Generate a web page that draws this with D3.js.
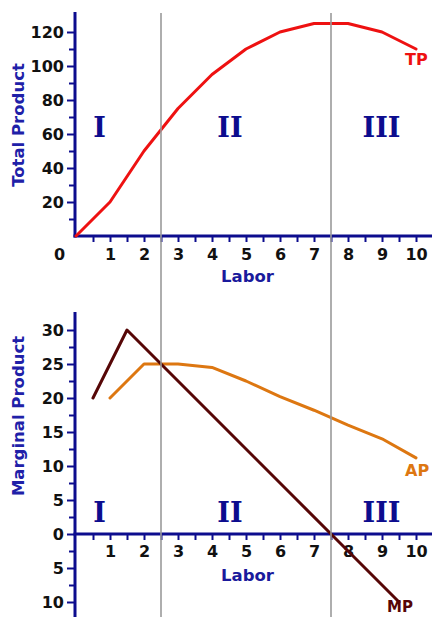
<!DOCTYPE html>
<html>
<head>
<meta charset="utf-8">
<script src="https://cdn.jsdelivr.net/npm/d3@7"></script>
<style>
  html, body { margin: 0; padding: 0; background: #fff; }
  svg { display: block; }
</style>
</head>
<body>
<svg id="chart" width="432" height="617"></svg>
<script>
// ---------- data ----------
const labor = [0, 1, 2, 3, 4, 5, 6, 7, 8, 9, 10];
const totalProduct = [0, 20, 50, 75, 95, 110, 120, 125, 125, 120, 110];
const apLabor = [1, 2, 3, 4, 5, 6, 7, 8, 9, 10];
const averageProduct = [20, 25, 25, 24.5, 22.5, 20.2, 18.2, 16, 14, 11.2];
const mpLabor = [0.5, 1.5, 2.5, 3.5, 4.5, 5.5, 6.5, 7.5, 8.5, 9.5];
const marginalProduct = [20, 30, 25, 20, 15, 10, 5, 0, -5, -10];
const stageBounds = [2.5, 7.5];
const stageLabels = ["I", "II", "III"];
const xTicks = [1, 2, 3, 4, 5, 6, 7, 8, 9, 10];
const xMinorTicks = [0.5, 1.5, 2.5, 3.5, 4.5, 5.5, 6.5, 7.5, 8.5, 9.5, 10.5];
const tpTicks = [20, 40, 60, 80, 100, 120];
const tpMinorTicks = [10, 30, 50, 70, 90, 110];
const mpTicks = [-10, -5, 0, 5, 10, 15, 20, 25, 30];
const mpMinorTicks = [-7.5, -2.5, 2.5, 7.5, 12.5, 17.5, 22.5, 27.5];

// ---------- styles ----------
const AXIS = "#0c0c8e";
const TITLE = "#2020a8";
const LABOR_COLOR = "#1a1a9c";
const TP_COLOR = "#ee1111";
const AP_COLOR = "#dd7711";
const MP_COLOR = "#560606";
const GRID = "#9a9a9a";
const FONT = "'DejaVu Sans', Verdana, sans-serif";
const SERIF = "'DejaVu Serif', serif";

const svg = d3.select("#chart");

const x = d3.scaleLinear().domain([0, 10]).range([76, 416]);
const yTop = d3.scaleLinear().domain([0, 120]).range([236, 32]);
const yBot = d3.scaleLinear().domain([0, 30]).range([534, 330]);

function styleAxis(g, fontSize) {
  g.select(".domain").remove();
  g.selectAll(".tick line").attr("stroke", AXIS).attr("stroke-width", 2);
  g.selectAll(".tick text")
    .attr("fill", "#111")
    .style("font-family", FONT)
    .style("font-weight", "bold")
    .style("font-size", fontSize + "px");
}

// ---------- TOP PANEL ----------
const topG = svg.append("g");

topG.append("g").attr("transform", `translate(0,${yTop(0)})`)
  .call(d3.axisBottom(x).tickValues(xMinorTicks).tickSize(6).tickFormat(""))
  .call(g => styleAxis(g, 16));
topG.append("g").attr("transform", `translate(0,${yTop(0)})`)
  .call(d3.axisBottom(x).tickValues(xTicks).tickSize(6).tickPadding(7).tickFormat(d3.format("d")))
  .call(g => styleAxis(g, 16));

topG.append("g").attr("transform", `translate(${x(0) - 1},0)`)
  .call(d3.axisLeft(yTop).tickValues(tpMinorTicks).tickSize(6).tickFormat(""))
  .call(g => styleAxis(g, 16));
topG.append("g").attr("transform", `translate(${x(0) - 1},0)`)
  .call(d3.axisLeft(yTop).tickValues(tpTicks).tickSize(8).tickPadding(3).tickFormat(d3.format("d")))
  .call(g => styleAxis(g, 16));

topG.append("text")
  .attr("x", 59.5).attr("y", 260)
  .attr("text-anchor", "middle")
  .attr("fill", "#111")
  .style("font-family", FONT).style("font-weight", "bold").style("font-size", "16px")
  .text("0");

topG.append("line").attr("x1", x(0) - 1).attr("x2", x(0) - 1).attr("y1", 12).attr("y2", yTop(0) + 1.5)
  .attr("stroke", AXIS).attr("stroke-width", 3);
topG.append("line").attr("x1", x(0) - 2.5).attr("x2", 432).attr("y1", yTop(0)).attr("y2", yTop(0))
  .attr("stroke", AXIS).attr("stroke-width", 3);

topG.append("text")
  .attr("transform", `translate(18,125) rotate(-90)`)
  .attr("text-anchor", "middle").attr("dominant-baseline", "central")
  .attr("fill", TITLE)
  .style("font-family", FONT).style("font-weight", "bold").style("font-size", "16.5px")
  .text("Total Product");
topG.append("text")
  .attr("x", 247.5).attr("y", 282)
  .attr("text-anchor", "middle")
  .attr("fill", LABOR_COLOR)
  .style("font-family", FONT).style("font-weight", "bold").style("font-size", "16.5px")
  .text("Labor");

topG.append("path")
  .datum(labor.map((l, i) => [l, totalProduct[i]]))
  .attr("fill", "none").attr("stroke", TP_COLOR).attr("stroke-width", 3)
  .attr("stroke-linejoin", "round").attr("stroke-linecap", "round")
  .attr("d", d3.line().x(d => x(d[0])).y(d => yTop(d[1])));
topG.append("text")
  .attr("x", 405).attr("y", 65)
  .attr("fill", TP_COLOR)
  .style("font-family", FONT).style("font-weight", "bold").style("font-size", "16px")
  .text("TP");

// ---------- BOTTOM PANEL ----------
const botG = svg.append("g");

botG.append("g").attr("transform", `translate(0,${yBot(0)})`)
  .call(d3.axisBottom(x).tickValues(xMinorTicks).tickSize(6).tickFormat(""))
  .call(g => styleAxis(g, 16));
botG.append("g").attr("transform", `translate(0,${yBot(0)})`)
  .call(d3.axisBottom(x).tickValues(xTicks).tickSize(6).tickPadding(6).tickFormat(d3.format("d")))
  .call(g => styleAxis(g, 16));

botG.append("g").attr("transform", `translate(${x(0) - 1},0)`)
  .call(d3.axisLeft(yBot).tickValues(mpMinorTicks).tickSize(6).tickFormat(""))
  .call(g => styleAxis(g, 16));
botG.append("g").attr("transform", `translate(${x(0) - 1},0)`)
  .call(d3.axisLeft(yBot).tickValues(mpTicks).tickSize(8).tickPadding(3).tickFormat(d => Math.abs(d)))
  .call(g => styleAxis(g, 16));

botG.append("line").attr("x1", x(0) - 1).attr("x2", x(0) - 1).attr("y1", 312).attr("y2", 617)
  .attr("stroke", AXIS).attr("stroke-width", 3);
botG.append("line").attr("x1", x(0) - 2.5).attr("x2", 432).attr("y1", yBot(0)).attr("y2", yBot(0))
  .attr("stroke", AXIS).attr("stroke-width", 3);

botG.append("text")
  .attr("transform", `translate(18,416) rotate(-90)`)
  .attr("text-anchor", "middle").attr("dominant-baseline", "central")
  .attr("fill", TITLE)
  .style("font-family", FONT).style("font-weight", "bold").style("font-size", "16.5px")
  .text("Marginal Product");
botG.append("text")
  .attr("x", 247.5).attr("y", 581)
  .attr("text-anchor", "middle")
  .attr("fill", LABOR_COLOR)
  .style("font-family", FONT).style("font-weight", "bold").style("font-size", "16.5px")
  .text("Labor");

botG.append("path")
  .datum(apLabor.map((l, i) => [l, averageProduct[i]]))
  .attr("fill", "none").attr("stroke", AP_COLOR).attr("stroke-width", 3)
  .attr("stroke-linejoin", "round").attr("stroke-linecap", "round")
  .attr("d", d3.line().x(d => x(d[0])).y(d => yBot(d[1])));
botG.append("path")
  .datum(mpLabor.map((l, i) => [l, marginalProduct[i]]))
  .attr("fill", "none").attr("stroke", MP_COLOR).attr("stroke-width", 3)
  .attr("stroke-linejoin", "round").attr("stroke-linecap", "round")
  .attr("d", d3.line().x(d => x(d[0])).y(d => yBot(d[1])));

botG.append("text")
  .attr("x", 405).attr("y", 476)
  .attr("fill", AP_COLOR)
  .style("font-family", FONT).style("font-weight", "bold").style("font-size", "16px")
  .text("AP");
botG.append("text")
  .attr("x", 387).attr("y", 612)
  .attr("fill", MP_COLOR)
  .style("font-family", FONT).style("font-weight", "bold").style("font-size", "15px")
  .text("MP");

// ---------- stage boundaries ----------
svg.append("g").selectAll("line")
  .data(stageBounds)
  .join("line")
  .attr("x1", d => x(d)).attr("x2", d => x(d))
  .attr("y1", 13).attr("y2", 617)
  .attr("stroke", GRID).attr("stroke-width", 1.6);

// ---------- stage labels ----------
const stageX = [99.5, 230, 381.5];
[137, 522].forEach(baseY => {
  svg.append("g").selectAll("text")
    .data(stageLabels)
    .join("text")
    .attr("x", (d, i) => stageX[i])
    .attr("y", baseY)
    .attr("text-anchor", "middle")
    .attr("fill", AXIS)
    .style("font-family", SERIF).style("font-weight", "bold").style("font-size", "27px")
    .text(d => d);
});
</script>
</body>
</html>
